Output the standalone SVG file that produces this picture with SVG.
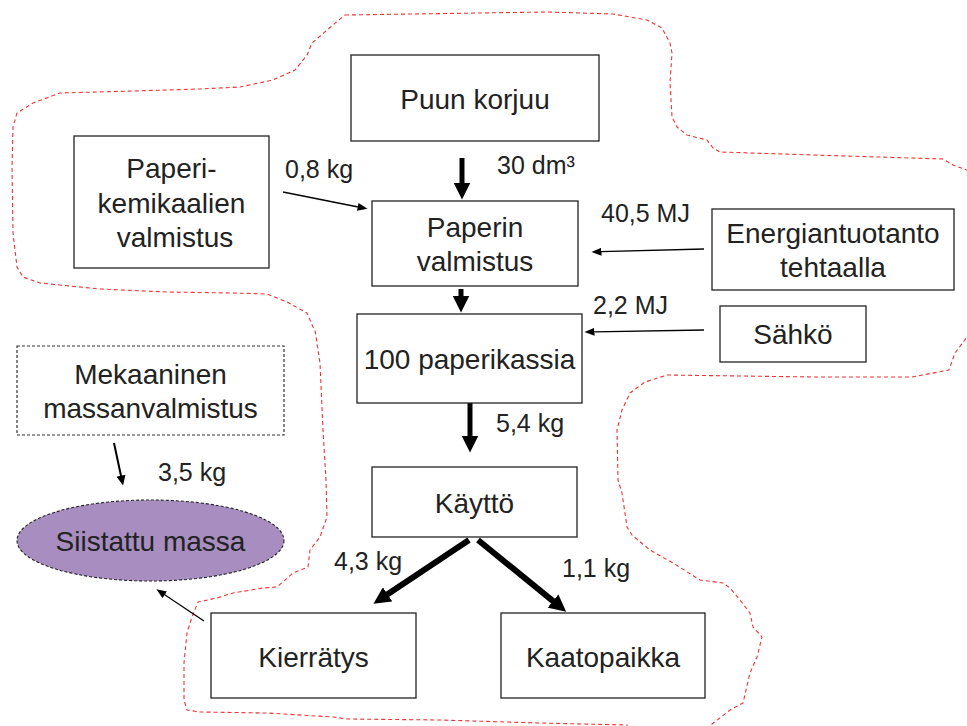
<svg xmlns="http://www.w3.org/2000/svg" width="967" height="726" viewBox="0 0 967 726">
<style>
text{font-family:"Liberation Sans",Arial,sans-serif;fill:#222;}
.t{font-size:28px;text-anchor:middle;}
.l{font-size:25px;}
.box{fill:#fff;stroke:#222;stroke-width:1.3;}
.dbox{fill:#fff;stroke:#333;stroke-width:1.2;stroke-dasharray:3 2;}
.thick{stroke:#000;stroke-width:5;fill:none;}
.diag{stroke:#000;stroke-width:6;fill:none;}
.thin{stroke:#000;stroke-width:1.3;fill:none;}
.bnd{fill:none;stroke:#ee3333;stroke-width:1.1;stroke-dasharray:4 3;stroke-linejoin:round;}
</style>
<defs>
<marker id="big" markerUnits="userSpaceOnUse" markerWidth="17" markerHeight="17" viewBox="0 0 17 17" refX="0.5" refY="8.5" orient="auto"><path d="M0,0 L17,8.5 L0,17 z" fill="#000"/></marker>
<marker id="small" markerUnits="userSpaceOnUse" markerWidth="10" markerHeight="8" viewBox="0 0 10 8" refX="0.5" refY="4" orient="auto"><path d="M0,0 L10,4 L0,8 z" fill="#000"/></marker>
<marker id="mid" markerUnits="userSpaceOnUse" markerWidth="10" markerHeight="9" viewBox="0 0 10 9" refX="0.5" refY="4.5" orient="auto"><path d="M0,0 L10,4.5 L0,9 z" fill="#000"/></marker>
</defs>
<rect width="967" height="726" fill="#fff"/>
<g id="boundary">
<path class="bnd" d="M345,15 L480,13 L547,12 L613,14 L647,20 L662,28 L670,43 L672,53 L670,83 L672,117 L677,127 L687,135 L707,140 L713,148 L720,152 L813,155 L943,159 L953,165 L967,170 L990,180 L990,330 L967,337 L955,353 L949,370 L912,377 L813,377 L667,375 L645,382 L630,393 L622,410 L617,430 L618,480 L622,493 L627,527 L632,535 L650,550 L673,563 L700,580 L723,583 L730,588 L740,600 L750,613 L753,627 L762,637 L757,657 L750,673 L743,703 L730,710 L712,724 L690,740 L630,735 L627,725 L540,723 L440,720 L347,719 L333,717 L267,713 L200,712 L187,710 L184,700 L184,663 L187,633 L192,617 L198,602 L217,598 L233,593 L263,588 L277,587 L293,573 L308,567 L310,550 L320,537 L327,517 L326,480 L323,430 L320,363 L315,330 L313,327 L307,313 L287,302 L267,294 L233,293 L167,292 L100,289 L40,283 L23,277 L17,267 L13,233 L12,167 L13,127 L17,113 L33,103 L60,93 L133,91 L200,89 L240,87 L273,80 L295,70 L307,55 L312,43 L333,25 Z"/>
</g>
<g id="connectors">
<line class="thick" x1="462" y1="158" x2="462" y2="183" marker-end="url(#big)"/>
<line class="thick" x1="461" y1="289" x2="461" y2="296" marker-end="url(#big)"/>
<line class="thick" x1="470" y1="403" x2="470" y2="436" marker-end="url(#big)"/>
<line class="diag" x1="469" y1="540" x2="387.2" y2="594.6" marker-end="url(#big)"/>
<line class="diag" x1="478" y1="540" x2="553.4" y2="601.3" marker-end="url(#big)"/>
<line class="thin" x1="283" y1="192" x2="358.2" y2="207" marker-end="url(#small)"/>
<line class="thin" x1="704" y1="249" x2="601" y2="251.7" marker-end="url(#small)"/>
<line class="thin" x1="704" y1="330" x2="594" y2="331.8" marker-end="url(#small)"/>
<line class="thin" x1="204" y1="621" x2="164.3" y2="594.5" marker-end="url(#small)"/>
<line class="thin" style="stroke-width:2" x1="114" y1="443" x2="121.1" y2="476.2" marker-end="url(#mid)"/>
<text class="l" x="497" y="174">30 dm³</text>
<text class="l" x="285" y="178">0,8 kg</text>
<text class="l" x="601" y="222">40,5 MJ</text>
<text class="l" x="593" y="314">2,2 MJ</text>
<text class="l" x="496" y="432">5,4 kg</text>
<text class="l" x="158" y="481">3,5 kg</text>
<text class="l" x="334" y="570">4,3 kg</text>
<text class="l" x="562" y="577">1,1 kg</text>
</g>
<g id="puun-korjuu">
<rect class="box" x="351" y="55" width="248" height="86"/>
<text class="t" x="475" y="109">Puun korjuu</text>
</g>
<g id="paperikemikaalien-valmistus">
<rect class="box" x="74" y="136" width="195" height="132"/>
<text class="t" x="171.5" y="178">Paperi-</text>
<text class="t" x="171.5" y="213">kemikaalien</text>
<text class="t" x="175" y="247">valmistus</text>
</g>
<g id="paperin-valmistus">
<rect class="box" x="372" y="201" width="206" height="85"/>
<text class="t" x="475" y="237">Paperin</text>
<text class="t" x="475" y="271">valmistus</text>
</g>
<g id="energiantuotanto">
<rect class="box" x="712" y="209" width="242" height="81"/>
<text class="t" x="833" y="243">Energiantuotanto</text>
<text class="t" x="833" y="277">tehtaalla</text>
</g>
<g id="sahko">
<rect class="box" x="720" y="306" width="146" height="56"/>
<text class="t" x="793" y="344">Sähkö</text>
</g>
<g id="paperikassia">
<rect class="box" x="357" y="314" width="225" height="89"/>
<text class="t" x="469.5" y="369">100 paperikassia</text>
</g>
<g id="mekaaninen">
<rect class="dbox" x="17" y="346" width="267" height="89"/>
<text class="t" x="150.5" y="384">Mekaaninen</text>
<text class="t" x="150.5" y="418">massanvalmistus</text>
</g>
<g id="siistattu-massa">
<ellipse cx="150.5" cy="540.5" rx="133.5" ry="40.5" fill="#a88ec0" stroke="#222" stroke-width="1.1" stroke-dasharray="3 2"/>
<text class="t" x="150.5" y="551">Siistattu massa</text>
</g>
<g id="kaytto">
<rect class="box" x="372" y="467" width="205" height="70"/>
<text class="t" x="474.5" y="513">Käyttö</text>
</g>
<g id="kierratys">
<rect class="box" x="211" y="613" width="205" height="85"/>
<text class="t" x="313.5" y="667">Kierrätys</text>
</g>
<g id="kaatopaikka">
<rect class="box" x="501" y="613" width="204" height="85"/>
<text class="t" x="603" y="667">Kaatopaikka</text>
</g>
</svg>
